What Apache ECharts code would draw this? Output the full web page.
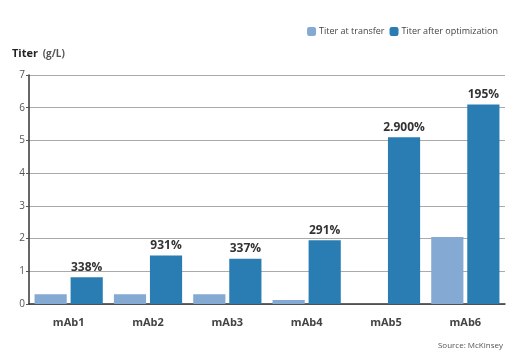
<!DOCTYPE html>
<html><head><meta charset="utf-8">
<script src="https://cdn.jsdelivr.net/npm/echarts@6/dist/echarts.min.js"></script>
<style>html,body{margin:0;padding:0;background:#fff}#c{width:517px;height:355px}</style>
</head><body><div id="c"></div>
<script>
const categories = ['mAb1','mAb2','mAb3','mAb4','mAb5','mAb6'];
const titerAtTransfer = [0.3, 0.3, 0.3, 0.12, null, 2.05];
const titerAfterOptimization = [0.82, 1.48, 1.38, 1.95, 5.1, 6.1];
const increaseLabels = ['338%','931%','337%','291%','2.900%','195%'];
const yTicks = [0,1,2,3,4,5,6,7];

const chart = echarts.init(document.getElementById('c'));
chart.setOption({
  animation: false,
  textStyle: {fontFamily: '"Open Sans", "Noto Sans", sans-serif'},
  grid: {left: 29, right: 12, top: 75, bottom: 51},
  title: {
    text: '{b|Titer} {n|(g/L)}', left: 7, top: 40,
    textStyle: {rich: {b: {fontWeight: 'bold', fontSize: 11, color: '#222'}, n: {fontSize: 10, color: '#555'}}}
  },
  legend: {
    right: 14, top: 22, itemWidth: 9, itemHeight: 9, itemGap: 5,
    textStyle: {fontSize: 9, color: '#444', padding: [0,0,0,-2]},
    data: ['Titer at transfer','Titer after optimization']
  },
  graphic: [{type: 'text', right: 14, top: 342, style: {text: 'Source: McKinsey', fontSize: 8, fill: '#555', fontFamily: '"Open Sans", sans-serif'}}],
  xAxis: {
    type: 'category', data: categories,
    axisLine: {lineStyle: {color: '#333', width: 1.5}},
    axisTick: {show: false},
    axisLabel: {fontWeight: 'bold', fontSize: 11, color: '#444', margin: 13}
  },
  yAxis: {
    type: 'value', min: 0, max: 7, interval: 1,
    axisLine: {show: true, lineStyle: {color: '#333', width: 1.5}},
    axisTick: {show: true, length: 3, lineStyle: {color: '#555'}},
    axisLabel: {fontSize: 10, color: '#555', margin: 4},
    splitLine: {lineStyle: {color: '#aaa', width: 1.2}}
  },
  series: [
    {name: 'Titer at transfer', type: 'bar', data: titerAtTransfer,
     itemStyle: {color: '#84a9d2'}, barGap: '12%', barCategoryGap: '14%'},
    {name: 'Titer after optimization', type: 'bar', data: titerAfterOptimization,
     itemStyle: {color: '#2a7db2'},
     label: {show: true, position: 'top', distance: 4, fontWeight: 'bold', fontSize: 12, color: '#333',
       formatter: p => increaseLabels[p.dataIndex]}}
  ]
});
</script></body></html>
